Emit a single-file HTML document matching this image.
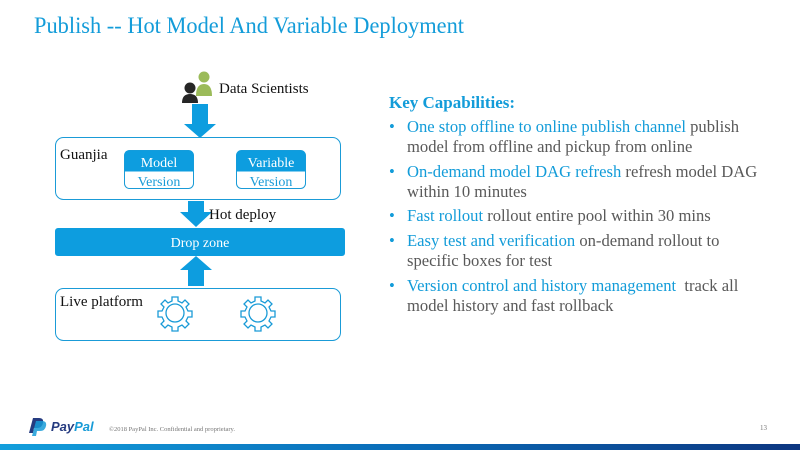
<!DOCTYPE html>
<html><head><meta charset="utf-8"><style>
html,body{margin:0;padding:0;background:#fff;}
svg{display:block;}
</style></head><body>
<svg width="800" height="450" viewBox="0 0 800 450" xmlns="http://www.w3.org/2000/svg" font-family="Liberation Serif, serif">
<defs>
<linearGradient id="bar" x1="0" x2="1" y1="0" y2="0">
<stop offset="0" stop-color="#139fdc"/><stop offset="0.5" stop-color="#0a6cb8"/><stop offset="1" stop-color="#0d3680"/>
</linearGradient>
</defs>
<text x="34" y="33" font-size="23" fill="#139cd9" textLength="430" lengthAdjust="spacingAndGlyphs">Publish -- Hot Model And Variable Deployment</text>

<circle cx="204" cy="77" r="5.5" fill="#9bbb59"/>
<path d="M196,96 Q196,84 204,84 Q212,84 212,96 Z" fill="#9bbb59"/>
<circle cx="190" cy="88" r="5.5" fill="#262626"/>
<path d="M182,103 Q182,94 190,94 Q198,94 198,103 Z" fill="#262626"/>
<text x="219" y="93" font-size="15" fill="#111">Data Scientists</text>

<path d="M192,104 H208 V124 H216 L200,138 L184,124 H192 Z" fill="#0d9ddf"/>

<rect x="55.5" y="137.5" width="285" height="62" rx="8" fill="#fff" stroke="#1a9bd7"/>
<text x="60" y="159" font-size="15" fill="#111">Guanjia</text>
<rect x="124.5" y="150.5" width="69" height="38" rx="5" fill="#fff" stroke="#1a9bd7"/>
<path d="M124.5,171.5 V155.5 Q124.5,150.5 129.5,150.5 H188.5 Q193.5,150.5 193.5,155.5 V171.5 Z" fill="#0d9ddf"/>
<text x="159" y="167" font-size="14" fill="#fff" text-anchor="middle">Model</text>
<text x="159" y="186" font-size="14" fill="#1a9bd7" text-anchor="middle">Version</text>
<rect x="236.5" y="150.5" width="69" height="38" rx="5" fill="#fff" stroke="#1a9bd7"/>
<path d="M236.5,171.5 V155.5 Q236.5,150.5 241.5,150.5 H300.5 Q305.5,150.5 305.5,155.5 V171.5 Z" fill="#0d9ddf"/>
<text x="271" y="167" font-size="14" fill="#fff" text-anchor="middle">Variable</text>
<text x="271" y="186" font-size="14" fill="#1a9bd7" text-anchor="middle">Version</text>

<path d="M188,201 H204 V212 H212 L196,227 L180,212 H188 Z" fill="#0d9ddf"/>
<text x="209" y="219" font-size="15" fill="#111">Hot deploy</text>

<rect x="55" y="228" width="290" height="28" rx="3" fill="#0d9ddf"/>
<text x="200" y="247" font-size="14" fill="#fff" text-anchor="middle">Drop zone</text>

<path d="M188,286 V270 H180 L196,256 L212,270 H204 V286 Z" fill="#0d9ddf"/>

<rect x="55.5" y="288.5" width="285" height="52" rx="8" fill="#fff" stroke="#1a9bd7"/>
<text x="60" y="306" font-size="15" fill="#111">Live platform</text>
<g fill="none" stroke="#1a9bd7" stroke-width="1.3">
<g transform="translate(175,313)">
<circle r="9"/>
<path d="M-3,-16 h6 v4 l4,2 3,-3 4,4 -3,3 2,4 h4 v6 h-4 l-2,4 3,3 -4,4 -3,-3 -4,2 v4 h-6 v-4 l-4,-2 -3,3 -4,-4 3,-3 -2,-4 h-4 v-6 h4 l2,-4 -3,-3 4,-4 3,3 4,-2 z"/>
</g>
<g transform="translate(258,313)">
<circle r="9"/>
<path d="M-3,-16 h6 v4 l4,2 3,-3 4,4 -3,3 2,4 h4 v6 h-4 l-2,4 3,3 -4,4 -3,-3 -4,2 v4 h-6 v-4 l-4,-2 -3,3 -4,-4 3,-3 -2,-4 h-4 v-6 h4 l2,-4 -3,-3 4,-4 3,3 4,-2 z"/>
</g>
</g>

<text x="389" y="108" font-size="17" font-weight="bold" fill="#139cd9">Key Capabilities:</text>
<g font-size="16.6" fill="#595959">
<text x="389" y="132" fill="#139cd9">•</text>
<text x="407" y="132"><tspan fill="#139cd9">One stop offline to online publish channel</tspan> publish</text>
<text x="407" y="152">model from offline and pickup from online</text>
<text x="389" y="177" fill="#139cd9">•</text>
<text x="407" y="177"><tspan fill="#139cd9">On-demand model DAG refresh</tspan> refresh model DAG</text>
<text x="407" y="197">within 10 minutes</text>
<text x="389" y="221" fill="#139cd9">•</text>
<text x="407" y="221"><tspan fill="#139cd9">Fast rollout</tspan> rollout entire pool within 30 mins</text>
<text x="389" y="246" fill="#139cd9">•</text>
<text x="407" y="246"><tspan fill="#139cd9">Easy test and verification</tspan> on-demand rollout to</text>
<text x="407" y="266">specific boxes for test</text>
<text x="389" y="291" fill="#139cd9">•</text>
<text x="407" y="291" xml:space="preserve"><tspan fill="#139cd9">Version control and history management</tspan>  track all</text>
<text x="407" y="311">model history and fast rollback</text>
</g>

<path d="M33,418 h6 q5,0 4,5 q-1,5 -6,5 h-3 l-1,5 h-4 z" fill="#253b80"/>
<path d="M36,421 h6 q5,0 4,5 q-1,5 -6,5 h-3 l-1,5 h-4 z" fill="#179bd7" opacity="0.85"/>
<text x="51" y="431" font-family="Liberation Sans, sans-serif" font-size="13" font-weight="bold" font-style="italic"><tspan fill="#253b80">Pay</tspan><tspan fill="#179bd7">Pal</tspan></text>
<text x="109" y="431" font-size="6.5" fill="#777">©2018 PayPal Inc. Confidential and proprietary.</text>
<text x="760" y="430" font-size="7" fill="#777">13</text>
<rect x="0" y="444" width="800" height="6" fill="url(#bar)"/>
</svg>
</body></html>
